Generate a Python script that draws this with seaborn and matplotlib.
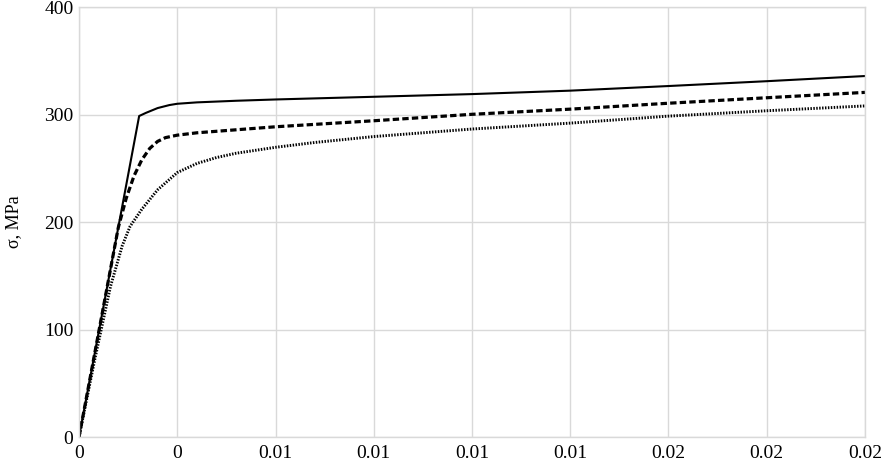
import pandas as pd
import matplotlib
matplotlib.use("Agg")
import matplotlib.pyplot as plt
import seaborn as sns
from matplotlib.ticker import MultipleLocator, FuncFormatter

sns.set_theme(style="whitegrid")
plt.rcParams["font.family"] = ["Liberation Serif", "DejaVu Serif"]

# strain / stress readings for the three curves
strain_solid = [0, 0.00153, 0.0017, 0.002, 0.0023, 0.0025, 0.003, 0.004, 0.005, 0.0075, 0.01,
                0.0125, 0.015, 0.0175, 0.02]
stress_solid = [0, 298.6, 301.5, 306.0, 308.8, 310.0, 311.3, 312.8, 314.0, 316.5, 319.0,
                322.2, 326.5, 331.0, 335.8]

strain_dash = [0, 0.001, 0.0012, 0.0014, 0.0016, 0.0018, 0.002, 0.0022, 0.0025, 0.003, 0.004,
               0.005, 0.0075, 0.01, 0.0125, 0.015, 0.0175, 0.02]
stress_dash = [0, 195.0, 222.0, 243.0, 258.0, 268.5, 275.0, 278.5, 280.8, 283.0, 285.8,
               288.6, 294.2, 300.2, 305.0, 310.5, 315.6, 320.6]

strain_dot = [0, 0.0004, 0.0008, 0.0011, 0.0013, 0.0016, 0.002, 0.0025, 0.003, 0.0035, 0.004,
              0.005, 0.006, 0.0075, 0.01, 0.0125, 0.015, 0.0175, 0.02]
stress_dot = [0, 72.0, 140.0, 178.0, 196.0, 212.0, 230.0, 246.0, 254.5, 260.0, 264.0,
              269.5, 274.0, 279.5, 286.5, 292.0, 298.5, 303.5, 308.0]

x_ticks_step = 0.0025
y_ticks_step = 100

fig = plt.figure(figsize=(8.83, 4.62), dpi=100)
ax = fig.add_axes([0.0895, 0.0541, 0.8901, 0.9307])

df_solid = pd.DataFrame({"strain": strain_solid, "stress": stress_solid})
df_dash = pd.DataFrame({"strain": strain_dash, "stress": stress_dash})
df_dot = pd.DataFrame({"strain": strain_dot, "stress": stress_dot})

sns.lineplot(data=df_dot, x="strain", y="stress", ax=ax, sort=False, estimator=None,
             color="black", linewidth=2.1, linestyle=(0, (0.5, 0.5)))
sns.lineplot(data=df_dash, x="strain", y="stress", ax=ax, sort=False, estimator=None,
             color="black", linewidth=2.3, linestyle=(0, (2.0, 1.0)))
sns.lineplot(data=df_solid, x="strain", y="stress", ax=ax, sort=False, estimator=None,
             color="black", linewidth=1.5)

ax.set_xlim(0, 0.02)
ax.set_ylim(0, 400)
ax.xaxis.set_major_locator(MultipleLocator(x_ticks_step))
ax.yaxis.set_major_locator(MultipleLocator(y_ticks_step))
ax.xaxis.set_major_formatter(FuncFormatter(lambda v, p: "0" if round(v + 1e-9, 2) == 0 else f"{round(v + 1e-9, 2):g}"))
ax.yaxis.set_major_formatter(FuncFormatter(lambda v, p: f"{v:g}"))

ax.grid(True, color="#d9d9d9", linewidth=1.0)
for s in ax.spines.values():
    s.set_color("#d9d9d9")
    s.set_linewidth(1.0)
ax.tick_params(axis="both", length=0, labelsize=14, colors="black")
ax.tick_params(axis="x", pad=6)
ax.tick_params(axis="y", pad=4)

ax.set_xlabel("")
ax.set_ylabel("σ, MPa", fontsize=13, color="black", labelpad=16)

fig.savefig("out.png", dpi=100, facecolor="white")
